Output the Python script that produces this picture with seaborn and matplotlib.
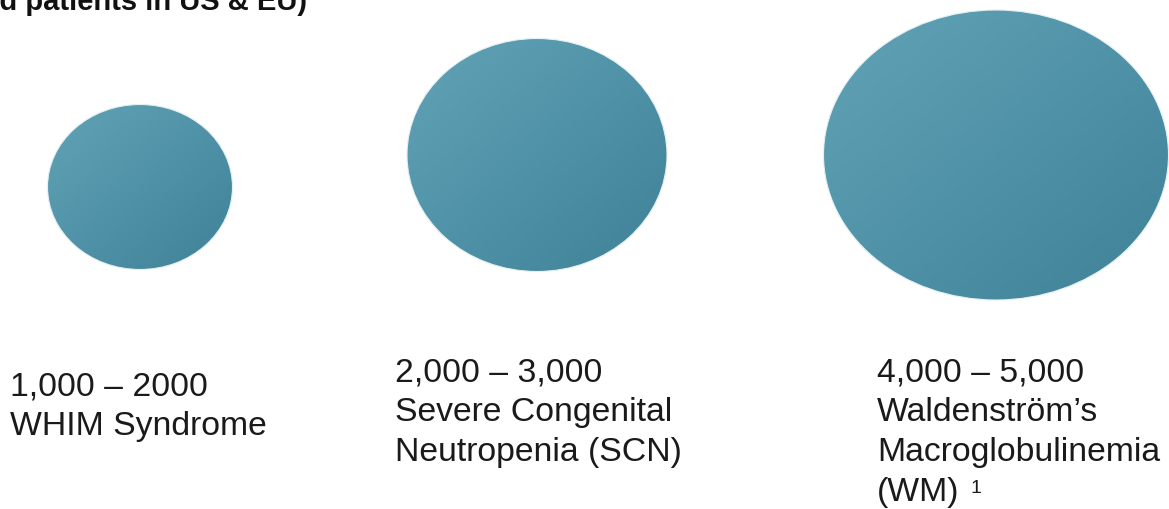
"""
Bubble overview of estimated patient numbers (US & EU) per indication.
"""

import matplotlib.pyplot as plt
import seaborn as sns
from matplotlib.patches import Ellipse
import numpy as np

# Data
ranges = ["1,000 \u2013 2000", "2,000 \u2013 3,000", "4,000 \u2013 5,000"]
indications = [
    ["WHIM Syndrome"],
    ["Severe Congenital", "Neutropenia (SCN)"],
    ["Waldenstr\u00f6m\u2019s", "Macroglobulinemia", "(WM)"],
]
footnotes = ["", "", "1"]
title = "(Estimated patients in US & EU)"

# Layout (pixel space of a 1169x509 canvas)
centers = [(140, 187), (537, 155), (996, 155)]
sizes = [(185, 165), (260, 233), (345, 290)]
label_x = [10, 395, 877]
first_baseline = [395, 381, 381]
line_step = 40

sns.set_style("white")
plt.rcParams['font.family'] = ['Liberation Sans', 'DejaVu Sans']

fig = plt.figure(figsize=(11.69, 5.09), dpi=100)
ax = fig.add_axes([0, 0, 1, 1])
ax.axis('off')

# teal gradient, lighter top-left to darker bottom-right
cmap = sns.blend_palette(["#62a3b6", "#5092a7", "#3f8196"], as_cmap=True)
gx, gy = np.meshgrid(np.linspace(0, 1, 200), np.linspace(0, 1, 200))
grad = (gx + gy) / 2

for (cx, cy), (w, h) in zip(centers, sizes):
    ell = Ellipse((cx, cy), w, h, facecolor='none', edgecolor='none')
    ax.add_patch(ell)
    im = ax.imshow(grad, cmap=cmap, extent=(cx - w / 2, cx + w / 2, cy + h / 2, cy - h / 2),
                   interpolation='bilinear', zorder=2)
    im.set_clip_path(ell)
    ax.add_patch(Ellipse((cx, cy), w, h, facecolor='none', edgecolor='#e4f0f3',
                         linewidth=0.8, zorder=3))

ax.set_xlim(0, 1169)
ax.set_ylim(509, 0)

for rng, names, fn, x, y0 in zip(ranges, indications, footnotes, label_x, first_baseline):
    lines = [rng] + names
    for i, line in enumerate(lines):
        ax.text(x, y0 + i * line_step, line, fontsize=24.3, color='#1a1a1a',
                va='baseline', ha='left')
    if fn:
        # superscript reference mark after the last line
        ax.text(970, 493, fn, fontsize=14, color='#1a1a1a', va='baseline', ha='left')

# title is cut off by the left edge in the reference
ax.text(307, 10, title, fontsize=21, fontweight='bold', color='#111111',
        ha='right', va='baseline')

fig.savefig("out.png", dpi=100)
